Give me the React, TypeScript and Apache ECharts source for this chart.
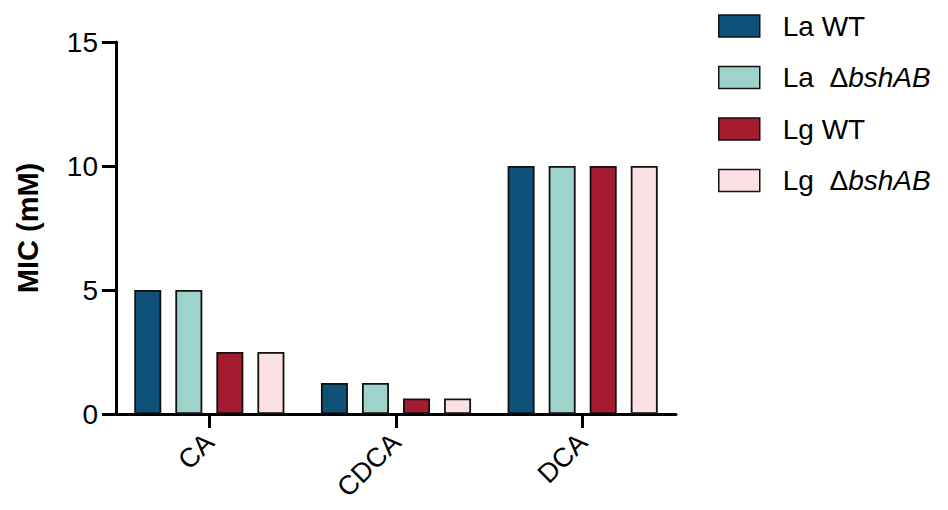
import React, { useEffect, useRef } from "react";
import * as echarts from "echarts";

const categories = ["CA", "CDCA", "DCA"];
const seriesNames = ["La WT", "La ΔbshAB", "Lg WT", "Lg ΔbshAB"];
const laWT = [5, 1.25, 10];
const laDelta = [5, 1.25, 10];
const lgWT = [2.5, 0.625, 10];
const lgDelta = [2.5, 0.625, 10];
const seriesValues = [laWT, laDelta, lgWT, lgDelta];
const colors = ["#0F5179", "#9DD3CB", "#A51B2F", "#FCE1E4"];
const yTicks = [0, 5, 10, 15];

const FONT = "Liberation Sans, Arial, sans-serif";

export default function App() {
  const ref = useRef<HTMLDivElement>(null);
  useEffect(() => {
    if (!ref.current) return;
    const chart = echarts.init(ref.current, undefined, { renderer: "svg" });
    chart.setOption({
      animation: false,
      backgroundColor: "#ffffff",
      textStyle: { fontFamily: FONT, color: "#000" },
      grid: { left: 116, right: 272, top: 42, bottom: 96, containLabel: false },
      legend: {
        orient: "vertical",
        left: 718,
        top: 11,
        padding: 0,
        itemWidth: 41,
        itemHeight: 22,
        itemGap: 21.5,
        icon: "rect",
        selectedMode: false,
        itemStyle: { borderColor: "#111", borderWidth: 1.5 },
        textStyle: {
          fontFamily: FONT,
          fontSize: 28,
          color: "#000",
          lineHeight: 30,
          padding: [0, 0, 0, 18],
          rich: {
            i: { fontStyle: "italic", fontFamily: FONT, fontSize: 28, color: "#000", lineHeight: 30 },
          },
        },
        formatter: (name: string) => name.replace("Δ", " Δ").replace("bshAB", "{i|bshAB}"),
        data: seriesNames,
      },
      xAxis: {
        type: "category",
        data: categories,
        axisLine: { show: true, lineStyle: { color: "#000", width: 3 } },
        axisTick: { show: true, alignWithLabel: true, length: 14, lineStyle: { color: "#000", width: 3 } },
        axisLabel: {
          rotate: 45,
          fontSize: 27,
          fontFamily: FONT,
          color: "#000",
          margin: 24,
        },
      },
      yAxis: {
        type: "value",
        min: yTicks[0],
        max: yTicks[yTicks.length - 1],
        interval: 5,
        name: "MIC (mM)",
        nameLocation: "middle",
        nameGap: 74,
        nameTextStyle: { fontSize: 29, fontWeight: "bold", fontFamily: FONT, color: "#000" },
        axisLine: { show: true, lineStyle: { color: "#000", width: 3 } },
        axisTick: { show: true, length: 14, lineStyle: { color: "#000", width: 3 } },
        axisLabel: { fontSize: 28, fontFamily: FONT, color: "#000", margin: 18 },
        splitLine: { show: false },
      },
      series: seriesNames.map((n, i) => ({
        name: n,
        type: "bar",
        data: seriesValues[i],
        barWidth: 27,
        barGap: "52%",
        itemStyle: { color: colors[i], borderColor: "#111", borderWidth: 1.8 },
      })),
    });
    return () => chart.dispose();
  }, []);
  return (
    <div
      ref={ref}
      style={{ position: "fixed", left: 0, top: 0, width: 948, height: 510, background: "#fff" }}
    />
  );
}
